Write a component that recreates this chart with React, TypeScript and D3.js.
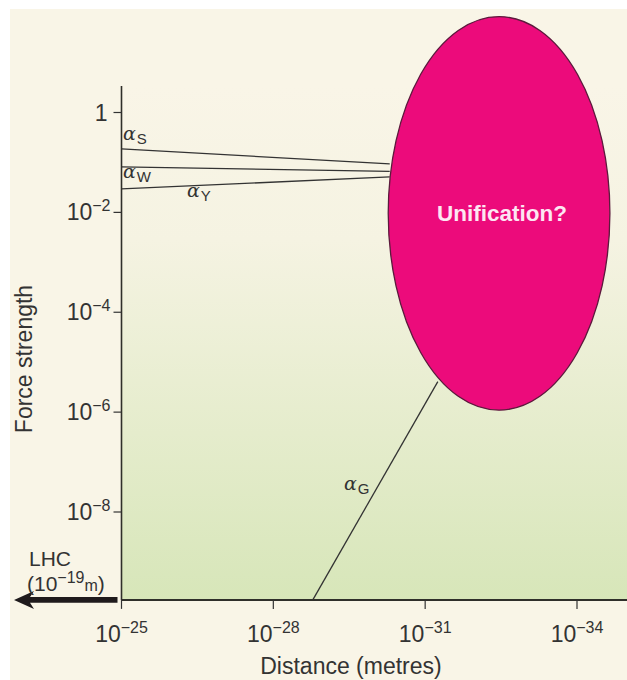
import * as d3 from "d3";
import { useEffect, useRef } from "react";

// exponents (powers of ten)
const distanceTicks = [-25, -28, -31, -34];
const strengthTicks = [0, -2, -4, -6, -8];

const couplingNames = ["S", "W", "Y"];
const couplingStart = [-0.73, -1.09, -1.53]; // at 10^-25 m
const couplingEnd = [-1.03, -1.18, -1.29]; // at the ellipse edge
const couplingFrom = -25;
const couplingTo = -30.3;

const gravityDistance = [-28.78, -31.25];
const gravityStrength = [-9.76, -5.39];

const unificationCenter = [-32.46, -2.02];
const unificationRadius = [2.19, 3.94];

const FONT = "'Liberation Sans', Arial, sans-serif";

export default function App() {
    const svgRef = useRef(null);
    const width = 627;
    const height = 680;

    useEffect(() => {
        const svg = d3.select(svgRef.current)
            .attr("width", width)
            .attr("height", height);
        svg.selectAll("*").remove();

        const x = d3.scaleLinear().domain([-25, -34]).range([121.5, 577]);
        const y = d3.scaleLinear().domain([0, -8]).range([112.5, 512]);
        const x0 = x(-25);
        const yBottom = y(-9.76);
        const yTop = 86;

        const defs = svg.append("defs");
        const grad = defs.append("linearGradient")
            .attr("id", "plotGrad")
            .attr("x1", 0).attr("y1", 0).attr("x2", 0).attr("y2", 1);
        grad.append("stop").attr("offset", "0%").attr("stop-color", "#f9f5e7");
        grad.append("stop").attr("offset", "30%").attr("stop-color", "#f5f3e2");
        grad.append("stop").attr("offset", "100%").attr("stop-color", "#d7e6b9");

        // page background
        svg.append("rect").attr("width", width).attr("height", height).attr("fill", "#ffffff");
        svg.append("rect").attr("x", 10).attr("y", 9)
            .attr("width", width - 10).attr("height", height - 9)
            .attr("fill", "#f9f5e7");

        // plot area
        svg.append("rect")
            .attr("x", x0).attr("y", yTop)
            .attr("width", width - x0).attr("height", yBottom - yTop)
            .attr("fill", "url(#plotGrad)");

        // coupling lines
        const lines = svg.append("g");
        couplingNames.forEach((n, i) => {
            lines.append("line")
                .attr("x1", x(couplingFrom)).attr("y1", y(couplingStart[i]))
                .attr("x2", x(couplingTo)).attr("y2", y(couplingEnd[i]))
                .attr("stroke", "#333")
                .attr("stroke-width", 1.3);
        });

        // gravity
        lines.append("line")
            .attr("x1", x(gravityDistance[0])).attr("y1", y(gravityStrength[0]))
            .attr("x2", x(gravityDistance[1])).attr("y2", y(gravityStrength[1]))
            .attr("stroke", "#333")
            .attr("stroke-width", 1.3);

        // unification ellipse
        const cx = x(unificationCenter[0]);
        const cy = y(unificationCenter[1]);
        svg.append("ellipse")
            .attr("cx", cx).attr("cy", cy)
            .attr("rx", x(-25 - unificationRadius[0]) - x0)
            .attr("ry", y(-unificationRadius[1]) - y(0))
            .attr("fill", "#ec0b7b")
            .attr("stroke", "#5b1a3c")
            .attr("stroke-width", 1.3);

        svg.append("text")
            .attr("x", cx + 3).attr("y", cy + 8)
            .attr("text-anchor", "middle")
            .attr("font-family", FONT)
            .attr("font-weight", "bold")
            .attr("font-size", 22.5)
            .attr("fill", "#fde6f2")
            .text("Unification?");

        // alpha labels
        const alphaLabel = (px, py, sub) => {
            const t = svg.append("text")
                .attr("x", px).attr("y", py)
                .attr("fill", "#333");
            t.append("tspan")
                .attr("font-family", "'DejaVu Serif', serif")
                .attr("font-style", "italic")
                .attr("font-size", 19)
                .text("α");
            t.append("tspan")
                .attr("font-family", FONT)
                .attr("font-size", 15)
                .attr("dx", 1).attr("dy", 4)
                .text(sub);
        };
        alphaLabel(123, 140, "S");
        alphaLabel(123, 178, "W");
        alphaLabel(187, 197, "Y");
        alphaLabel(344, 490, "G");

        // y axis
        svg.append("line")
            .attr("x1", x0).attr("x2", x0)
            .attr("y1", yTop).attr("y2", yBottom)
            .attr("stroke", "#2f2f2a").attr("stroke-width", 1.6);

        const yt = svg.append("g");
        yt.selectAll("line")
            .data(strengthTicks)
            .join("line")
            .attr("x1", x0 - 8).attr("x2", x0)
            .attr("y1", d => y(d)).attr("y2", d => y(d))
            .attr("stroke", "#333").attr("stroke-width", 1.2);

        const ylab = yt.selectAll("text")
            .data(strengthTicks)
            .join("text")
            .attr("x", d => (d === 0 ? x0 - 14 : x0 - 11))
            .attr("y", d => y(d) + 8)
            .attr("text-anchor", "end")
            .attr("font-family", FONT)
            .attr("font-size", 23)
            .attr("fill", "#333");
        ylab.each(function (d) {
            const t = d3.select(this);
            if (d === 0) {
                t.text("1");
            } else {
                t.append("tspan").text("10");
                t.append("tspan")
                    .attr("font-size", 16)
                    .attr("dy", -9)
                    .text("−" + (-d));
            }
        });

        svg.append("text")
            .attr("transform", `translate(32, 359) rotate(-90)`)
            .attr("text-anchor", "middle")
            .attr("font-family", FONT)
            .attr("font-size", 23)
            .attr("fill", "#333")
            .text("Force strength");

        // x axis
        svg.append("line")
            .attr("x1", x0).attr("x2", width)
            .attr("y1", yBottom).attr("y2", yBottom)
            .attr("stroke", "#2f2f2a").attr("stroke-width", 2);

        const xt = svg.append("g");
        xt.selectAll("line")
            .data(distanceTicks)
            .join("line")
            .attr("x1", d => x(d)).attr("x2", d => x(d))
            .attr("y1", yBottom).attr("y2", yBottom + 9)
            .attr("stroke", "#333").attr("stroke-width", 1.2);

        const xlab = xt.selectAll("text")
            .data(distanceTicks)
            .join("text")
            .attr("x", d => x(d))
            .attr("y", yBottom + 42)
            .attr("text-anchor", "middle")
            .attr("font-family", FONT)
            .attr("font-size", 23)
            .attr("fill", "#333");
        xlab.each(function (d) {
            const t = d3.select(this);
            t.append("tspan").text("10");
            t.append("tspan")
                .attr("font-size", 16)
                .attr("dy", -9)
                .text("−" + (-d));
        });

        svg.append("text")
            .attr("x", 351).attr("y", 674)
            .attr("text-anchor", "middle")
            .attr("font-family", FONT)
            .attr("font-size", 23)
            .attr("fill", "#333")
            .text("Distance (metres)");

        // LHC arrow
        svg.append("path")
            .attr("d", `M${x0 - 4},${yBottom - 2.8} L30,${yBottom - 2.8} L34,${yBottom - 9} L14,${yBottom} L34,${yBottom + 9} L30,${yBottom + 2.8} L${x0 - 4},${yBottom + 2.8} Z`)
            .attr("fill", "#1f1a1c");

        svg.append("text")
            .attr("x", 29).attr("y", 566)
            .attr("font-family", FONT)
            .attr("font-size", 21)
            .attr("fill", "#333")
            .text("LHC");

        const lhc = svg.append("text")
            .attr("x", 27).attr("y", 591)
            .attr("font-family", FONT)
            .attr("font-size", 21)
            .attr("fill", "#333");
        lhc.append("tspan").text("(10");
        lhc.append("tspan").attr("font-size", 16).attr("dy", -8).text("−19");
        lhc.append("tspan").attr("font-size", 16).attr("dy", 8).text("m");
        lhc.append("tspan").text(")");
    }, []);

    return (
        <svg ref={svgRef} style={{ position: "absolute", left: 0, top: 0 }} />
    );
}
